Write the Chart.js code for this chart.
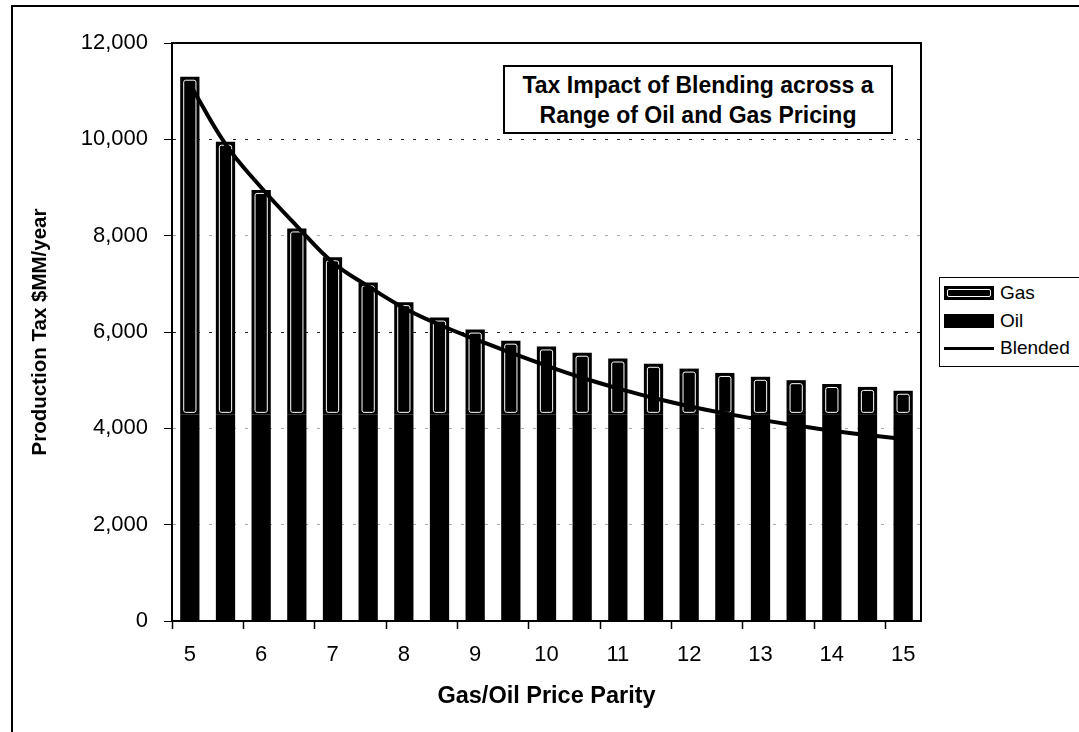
<!DOCTYPE html>
<html>
<head>
<meta charset="utf-8">
<script src="https://cdn.jsdelivr.net/npm/chart.js@4.4.1/dist/chart.umd.min.js"></script>
<style>
  html, body { margin: 0; padding: 0; background: #fff; overflow: hidden; }
  #wrap { position: relative; width: 1079px; height: 732px; overflow: hidden; font-family: 'Liberation Sans', Arial, sans-serif; }
  #frame { position: absolute; left: 11px; top: 5px; width: 1200px; height: 800px; border-left: 2px solid #000; border-top: 2px solid #000; }
  #chart { position: absolute; left: 0; top: 0; }
  #titleBox { position: absolute; left: 503px; top: 65px; width: 386px; height: 62px; border: 2px solid #000; background: #fff;
    font-weight: bold; font-size: 23px; line-height: 30px; text-align: center; padding-top: 3px; }
  #legend { position: absolute; left: 939px; top: 277px; width: 200px; height: 88px; border: 1.5px solid #000; background: #fff; font-size: 19px; }
  .item { position: absolute; left: 4px; height: 20px; line-height: 20px; }
  .sym { position: absolute; left: 0; width: 50px; }
  .lab { position: absolute; left: 56px; top: 0; white-space: nowrap; }
</style>
</head>
<body>
<div id="wrap">
  <div id="frame"></div>
  <canvas id="chart" width="1079" height="732"></canvas>
  <div id="titleBox">Tax Impact of Blending across a<br>Range of Oil and Gas Pricing</div>
  <div id="legend">
    <div class="item" style="top:5px"><div class="sym" style="top:3px;height:14px;background:#000;"><div style="position:absolute;left:3px;top:3px;right:3px;bottom:3px;border:1px solid #fff;border-radius:2px;"></div></div><span class="lab">Gas</span></div>
    <div class="item" style="top:33px"><div class="sym" style="top:3px;height:14px;background:#000;"></div><span class="lab">Oil</span></div>
    <div class="item" style="top:60px"><div class="sym" style="top:9px;height:3px;background:#000;"></div><span class="lab">Blended</span></div>
  </div>
</div>
<script>
// Gas/Oil price parity (x categories)
const parity = [5, 5.5, 6, 6.5, 7, 7.5, 8, 8.5, 9, 9.5, 10, 10.5, 11, 11.5, 12, 12.5, 13, 13.5, 14, 14.5, 15];

// Production tax, $MM/year
const oilTax = [4280, 4280, 4280, 4280, 4280, 4280, 4280, 4280, 4280, 4280, 4280,
                4280, 4280, 4280, 4280, 4280, 4280, 4280, 4280, 4280, 4280];
const gasTax = [7020, 5670, 4670, 3870, 3270, 2750, 2340, 2020, 1770, 1540, 1420,
                1290, 1170, 1060, 960, 870, 790, 720, 640, 580, 500];
const blendedTax = [11150, 9900, 9000, 8200, 7450, 6950, 6500, 6150, 5850, 5570, 5300,
                    5050, 4830, 4630, 4460, 4310, 4180, 4060, 3950, 3860, 3780];

const yTicks = [0, 2000, 4000, 6000, 8000, 10000, 12000];

const FONT = "'Liberation Sans', Arial, sans-serif";

// white inner outline on the gas segments, like the hatched fill in the print
const gasOutline = {
  id: 'gasOutline',
  afterDatasetDraw(chart, args) {
    if (args.index !== 1) return;
    const ctx = chart.ctx;
    ctx.save();
    ctx.strokeStyle = '#fff';
    ctx.lineWidth = 1;
    args.meta.data.forEach(bar => {
      const { x, y, base, width } = bar.getProps(['x', 'y', 'base', 'width'], true);
      ctx.beginPath();
      ctx.roundRect(x - width / 2 + 3.5, y + 3.5, width - 7, base - y - 6, 2);
      ctx.stroke();
    });
    ctx.restore();
  }
};

// top and right edges of the plot box
const plotBox = {
  id: 'plotBox',
  afterDraw(chart) {
    const { ctx, chartArea: a } = chart;
    ctx.save();
    ctx.strokeStyle = '#000';
    ctx.lineWidth = 2;
    ctx.beginPath();
    ctx.moveTo(a.left, a.top);
    ctx.lineTo(a.right, a.top);
    ctx.lineTo(a.right, a.bottom);
    ctx.stroke();
    ctx.restore();
  }
};

new Chart(document.getElementById('chart'), {
  data: {
    labels: parity,
    datasets: [
      { type: 'bar', label: 'Oil', data: oilTax, backgroundColor: '#000', stack: 'tax', order: 1,
        categoryPercentage: 1, barPercentage: 0.54 },
      { type: 'bar', label: 'Gas', data: gasTax, backgroundColor: '#000', stack: 'tax', order: 1,
        categoryPercentage: 1, barPercentage: 0.54 },
      { type: 'line', label: 'Blended', data: blendedTax, borderColor: '#000', borderWidth: 4,
        pointRadius: 0, tension: 0.4, fill: false, stack: 'blend', order: 0 }
    ]
  },
  options: {
    responsive: false,
    maintainAspectRatio: false,
    animation: false,
    layout: { padding: { left: 0, top: 43, right: 158, bottom: 0 } },
    plugins: {
      legend: { display: false },
      tooltip: { enabled: false }
    },
    scales: {
      x: {
        stacked: true,
        afterFit: s => { s.height = 111; },
        grid: {
          drawOnChartArea: false,
          tickLength: 8,
          tickColor: c => (c.index % 2 === 0 ? '#000' : 'rgba(0,0,0,0)'),
          tickWidth: 1.5
        },
        border: { color: '#000', width: 2 },
        ticks: {
          color: '#000',
          font: { family: FONT, size: 22 },
          padding: 13,
          autoSkip: false,
          maxRotation: 0,
          callback: function (v, i) { return Number.isInteger(parity[i]) ? String(parity[i]) : ''; }
        },
        title: {
          display: true,
          text: 'Gas/Oil Price Parity',
          color: '#000',
          font: { family: FONT, size: 23.5, weight: 'bold' },
          padding: 21
        }
      },
      y: {
        stacked: true,
        min: 0,
        max: 12000,
        afterFit: s => { s.width = 172; },
        afterBuildTicks: s => { s.ticks = yTicks.map(v => ({ value: v })); },
        grid: {
          color: c => (c.tick.value === 10000 || c.tick.value === 6000 ? '#222' : '#aaa'),
          tickColor: '#000',
          tickLength: 8
        },
        border: { color: '#000', width: 2, dash: [3, 9] },
        ticks: {
          color: '#000',
          font: { family: FONT, size: 22 },
          padding: 16,
          callback: v => v.toLocaleString('en-US')
        },
        title: {
          display: true,
          text: 'Production Tax $MM/year',
          color: '#000',
          font: { family: FONT, size: 20.5, weight: 'bold' },
          padding: 28
        }
      }
    }
  },
  plugins: [gasOutline, plotBox]
});
</script>
</body>
</html>
